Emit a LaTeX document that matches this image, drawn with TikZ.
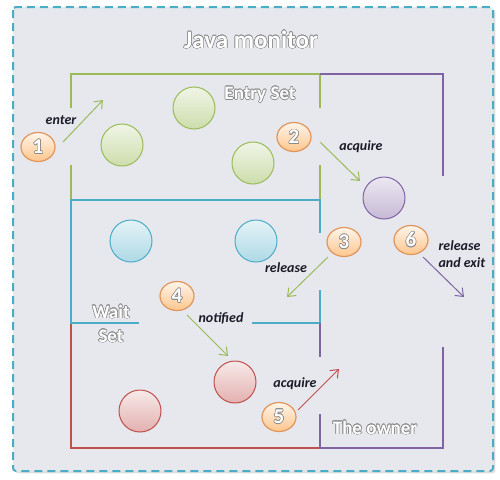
\documentclass[tikz,border=0pt]{standalone}
\usepackage{fontspec}
\setmainfont{Carlito}
\usepackage{contour}
\usetikzlibrary{arrows.meta,shadows,shapes.geometric}

\definecolor{monback}{HTML}{E6E8EE}
\definecolor{monframe}{HTML}{4BACC6}
\definecolor{entrygreen}{HTML}{9BBB59}
\definecolor{waitblue}{HTML}{4BACC6}
\definecolor{ownerpurple}{HTML}{8064A2}
\definecolor{queuered}{HTML}{C0504D}
\definecolor{badgeline}{HTML}{E0965A}
\definecolor{labelink}{HTML}{1C1C28}

% white text with a soft grey edge
\newcommand{\glowtext}[1]{{\contourlength{0.55pt}\contour{black!45}{\textcolor{white}{#1}}}}

\begin{document}
\begin{tikzpicture}[x=1pt,y=-1pt,
    wall/.style={line width=2.8pt},
    thread/.style={circle,draw,line width=1pt,minimum size=42pt,inner sep=0pt},
    badge/.style={ellipse,draw=badgeline,line width=1.2pt,minimum width=34pt,minimum height=29pt,
        inner sep=0pt,top color=orange!8!white,bottom color=orange!45!white,
        font=\fontsize{21}{21}\selectfont\bfseries},
    move/.style={line width=1pt,-{Straight Barb[length=7pt,width=11pt]}},
    act/.style={font=\fontsize{14}{17}\selectfont\bfseries\itshape,text=labelink},
    setname/.style={font=\fontsize{19}{24}\selectfont\bfseries,align=center}]
    \useasboundingbox (0,0) rectangle (500,479);
    \draw[monframe,line width=2pt,dash pattern=on 8pt off 5pt,rounded corners=3pt,
        fill=monback,drop shadow={opacity=0.25}] (13,7) rectangle (493,471);
    \node[font=\fontsize{25}{30}\selectfont\bfseries] (title) at (251,40) {\glowtext{Java monitor}};

    % the rooms
    \draw[wall,entrygreen] (71,108) -- (71,74) -- (320,74) -- (320,108);
    \draw[wall,entrygreen] (71,165) -- (71,200);
    \draw[wall,entrygreen] (320,165) -- (320,200);
    \draw[wall,queuered] (71,323) -- (71,448) -- (320,448);
    \draw[wall,waitblue] (320,233) -- (320,200) -- (71,200) -- (71,323) -- (139,323);
    \draw[wall,waitblue] (252,323) -- (320,323) -- (320,290);
    \draw[wall,ownerpurple] (320,74) -- (443,74) -- (443,176);
    \draw[wall,ownerpurple] (320,323) -- (320,357);
    \draw[wall,ownerpurple] (320,414) -- (320,448) -- (443,448) -- (443,347);

    \node[setname] (entryset) at (260,95) {\glowtext{Entry Set}};
    \node[setname] (waitset) at (111,324) {\glowtext{Wait}\\\glowtext{Set}};
    \node[setname] (owner) at (375,428) {\glowtext{The owner}};

    % threads
    \node[thread,draw=entrygreen,top color=entrygreen!15!white,bottom color=entrygreen!50!white] (g1) at (122,145) {};
    \node[thread,draw=entrygreen,top color=entrygreen!15!white,bottom color=entrygreen!50!white] (g2) at (194,108) {};
    \node[thread,draw=entrygreen,top color=entrygreen!15!white,bottom color=entrygreen!50!white] (g3) at (253,163) {};
    \node[thread,draw=waitblue,top color=waitblue!15!white,bottom color=waitblue!45!white] (b1) at (131,241) {};
    \node[thread,draw=waitblue,top color=waitblue!15!white,bottom color=waitblue!45!white] (b2) at (256,241) {};
    \node[thread,draw=ownerpurple,top color=ownerpurple!15!white,bottom color=ownerpurple!45!white] (p1) at (384,198) {};
    \node[thread,draw=queuered,top color=queuered!12!white,bottom color=queuered!45!white] (r1) at (140,411) {};
    \node[thread,draw=queuered,top color=queuered!12!white,bottom color=queuered!45!white] (r2) at (235,382) {};

    % numbered steps
    \node[badge] (n1) at (38,147) {\glowtext{1}};
    \node[badge] (n2) at (294,137) {\glowtext{2}};
    \node[badge] (n3) at (344,242) {\glowtext{3}};
    \node[badge] (n4) at (177,296) {\glowtext{4}};
    \node[badge] (n5) at (279,417) {\glowtext{5}};
    \node[badge] (n6) at (411,240) {\glowtext{6}};

    \coordinate (enterA) at (63,142);   \coordinate (enterB) at (103,100);
    \coordinate (acqA) at (320,142);    \coordinate (acqB) at (360,181);
    \coordinate (relA) at (328,257);    \coordinate (relB) at (287,297);
    \coordinate (notA) at (187,315);    \coordinate (notB) at (228,356);
    \coordinate (reacqA) at (298,410);  \coordinate (reacqB) at (339,369);
    \coordinate (exitA) at (423,257);   \coordinate (exitB) at (464,297);

    \draw[move,entrygreen] (enterA) -- (enterB);
    \draw[move,entrygreen] (acqA) -- (acqB);
    \draw[move,entrygreen] (relA) -- (relB);
    \draw[move,entrygreen] (notA) -- (notB);
    \draw[move,queuered] (reacqA) -- (reacqB);
    \draw[move,ownerpurple] (exitA) -- (exitB);

    \node[act] (lenter) at (61,120) {enter};
    \node[act] (lacq) at (361,147) {acquire};
    \node[act] (lrel) at (286,268) {release};
    \node[act] (lnot) at (221,318) {notified};
    \node[act] (lreacq) at (295,384) {acquire};
    \node[act,align=left,anchor=west] (lexit) at (435,254) {release\\and exit};
\end{tikzpicture}
\end{document}
